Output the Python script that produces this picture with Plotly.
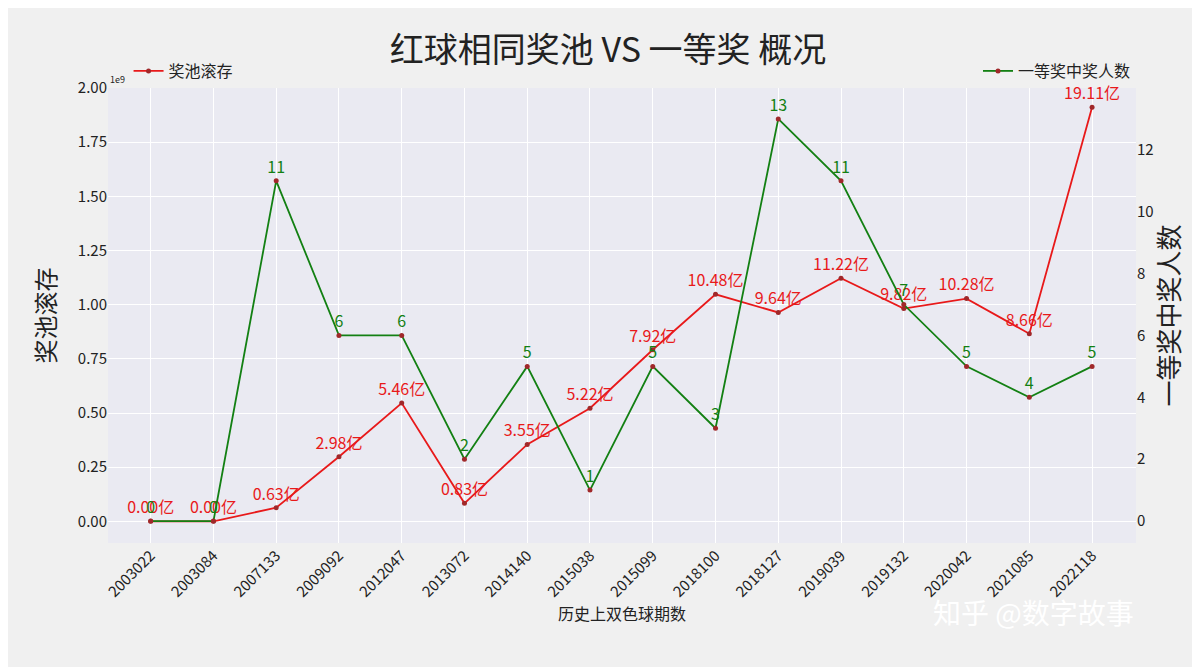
import plotly.graph_objects as go

periods = ["2003022","2003084","2007133","2009092","2012047","2013072","2014140","2015038",
           "2015099","2018100","2018127","2019039","2019132","2020042","2021085","2022118"]
pool_yi = [0.00,0.00,0.63,2.98,5.46,0.83,3.55,5.22,7.92,10.48,9.64,11.22,9.82,10.28,8.66,19.11]
winners = [0,0,11,6,6,2,5,1,5,3,13,11,7,5,4,5]

pool = [v*1e8 for v in pool_yi]
font = "Noto Sans CJK SC"
fig = go.Figure()
fig.add_trace(go.Scatter(x=periods, y=pool, name="奖池滚存", mode="lines+markers+text",
    line=dict(color="#e8191a", width=1.8), marker=dict(color="#a0282a", size=5),
    text=[f"{v:.2f}亿" for v in pool_yi], textposition="top center", showlegend=True,
    textfont=dict(color="#e8191a", size=16, family=font), legend="legend", cliponaxis=False))
fig.add_trace(go.Scatter(x=periods, y=winners, name="一等奖中奖人数", mode="lines+markers+text",
    line=dict(color="#138013", width=1.8), marker=dict(color="#a0282a", size=5),
    text=[str(v) for v in winners], textposition="top center", showlegend=True,
    textfont=dict(color="#138013", size=16, family=font), yaxis="y2", legend="legend2", cliponaxis=False))

tv = [i*0.25e9 for i in range(9)]
fig.update_layout(
    width=1200, height=667, paper_bgcolor="#f0f0f0", plot_bgcolor="#eaeaf2",
    font=dict(family=font, color="#222", size=14),
    title=dict(text="红球相同奖池 VS 一等奖 概况", x=0.5, y=0.955, xanchor="center", font=dict(size=34)),
    margin=dict(l=100, r=72, t=80, b=132),
    xaxis=dict(range=[-0.68, 15.7], tickangle=-45, gridcolor="white", showline=False,
               title=dict(text="历史上双色球期数", font=dict(size=16), standoff=4), tickfont=dict(size=15)),
    yaxis=dict(range=[-0.1e9, 2.0e9], tickvals=tv, ticktext=[f"{v/1e9:.2f}" for v in tv],
               gridcolor="white", zeroline=False, title=dict(text="奖池滚存", font=dict(size=24)),
               tickfont=dict(size=15)),
    yaxis2=dict(overlaying="y", side="right", range=[-0.71, 14.0], tickvals=[0,2,4,6,8,10,12],
                showgrid=False, zeroline=False, title=dict(text="一等奖中奖人数", font=dict(size=26), standoff=8),
                tickfont=dict(size=15)),
    legend=dict(x=0.02, y=1.0, xanchor="left", yanchor="bottom", orientation="h",
                bgcolor="rgba(0,0,0,0)", font=dict(size=16)),
    legend2=dict(x=1.0, y=1.0, xanchor="right", yanchor="bottom", orientation="h",
                 bgcolor="rgba(0,0,0,0)", font=dict(size=16)),
    annotations=[
        dict(text="1e9", xref="paper", yref="paper", x=0, y=1.0, xanchor="left", yanchor="bottom",
             showarrow=False, font=dict(size=9)),
        dict(text="知乎 @数字故事", xref="paper", yref="paper", x=1.0, y=-0.2, xanchor="right",
             showarrow=False, font=dict(size=28, color="white")),
    ],
)
fig.write_html("out.html")
